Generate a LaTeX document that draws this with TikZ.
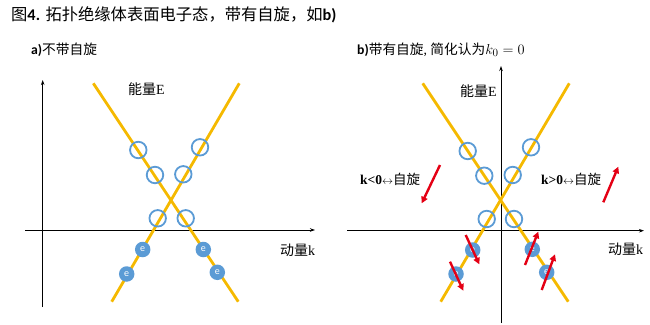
\documentclass[tikz,border=0pt]{standalone}
\usepackage{fontspec}
\setmainfont{Liberation Serif}
\setsansfont{Carlito}
\newfontfamily\cjk{Noto Sans CJK SC}
\usetikzlibrary{arrows.meta}
\definecolor{bandyellow}{RGB}{245,185,0}
\definecolor{holeblue}{RGB}{91,155,213}
\definecolor{spinred}{RGB}{228,0,20}
\newcommand{\fs}[1]{\fontsize{#1}{#1}\selectfont}
\tikzset{
  band/.style={draw=bandyellow, line width=2.8pt},
  hole/.style={circle, draw=holeblue, line width=1.8pt, minimum size=16.5pt, inner sep=0pt},
  elec/.style={circle, fill=holeblue, minimum size=15.5pt, inner sep=0pt, text=white,
    font=\sffamily\fs{10}},
  spin/.style={draw=spinred, line width=2.4pt, -{Triangle[length=6.5pt,width=6.5pt]}},
  axis/.style={draw=black, line width=0.9pt, -{Stealth[length=5pt,width=3.5pt]}},
  lab/.style={inner sep=0pt, font=\fs{14}},
}
\begin{document}
\begin{tikzpicture}[x=1pt,y=-1pt]
  \useasboundingbox (0,0) rectangle (650,324);
  % titles
  \node[lab, anchor=west, font=\fs{16.3}] (title) at (11,15)
    {{\cjk 图}{\sffamily\bfseries 4.} {\cjk 拓扑绝缘体表面电子态，带有自旋，如}{\sffamily\bfseries b)}};
  \node[lab, anchor=west, font=\fs{13.7}] (tita) at (31,50) {{\sffamily\bfseries a)}{\cjk 不带自旋}};
  \node[lab, anchor=west, font=\fs{13.7}] (titb) at (357,50)
    {{\sffamily\bfseries b)}{\cjk 带有自旋}, {\cjk 简化认为}{\fs{15}$k_0 = 0$}};

  % panel a: axes and bands
  \draw[axis] (42.7,307) -- (42.7,80);
  \draw[axis] (25,230) -- (315,230);
  \draw[band] (93.3,83.3) -- (238.3,301.7);
  \draw[band] (111.7,301.7) -- (239.3,83.3);
  \node[lab, anchor=west] (ea) at (128,89) {{\cjk 能量}E};
  \node[lab, anchor=west] (ka) at (280,250) {{\cjk 动量}k};
  \node[hole] (ha1) at (138.3,150) {};
  \node[hole] (ha2) at (155,175) {};
  \node[hole] (ha3) at (200,147.3) {};
  \node[hole] (ha4) at (183.3,174.3) {};
  \node[hole] (ha5) at (157.7,218.3) {};
  \node[hole] (ha6) at (185.7,218.3) {};
  \node[elec] (ea1) at (142.7,249.5) {e};
  \node[elec] (ea2) at (126.7,274) {e};
  \node[elec] (ea3) at (203.3,249.5) {e};
  \node[elec] (ea4) at (217.3,272.3) {e};

  % panel b: axes and bands
  \draw[axis] (501,323) -- (501,66);
  \draw[axis] (347,230.7) -- (644,230.7);
  \draw[band] (422.7,83.3) -- (568.3,301.7);
  \draw[band] (440.7,301.7) -- (569.3,83.3);
  \node[lab, anchor=west] (eb) at (460,91) {{\cjk 能量}E};
  \node[lab, anchor=west] (kb) at (608,249) {{\cjk 动量}k};
  \node[hole] (hb1) at (467.7,151) {};
  \node[hole] (hb2) at (484.3,175.7) {};
  \node[hole] (hb3) at (531,147.3) {};
  \node[hole] (hb4) at (512.7,175) {};
  \node[hole] (hb5) at (486.7,219) {};
  \node[hole] (hb6) at (514,219) {};
  \node[elec] (eb1) at (472.7,250) {e};
  \node[elec] (eb2) at (456,274) {e};
  \node[elec] (eb3) at (532.3,249.3) {e};
  \node[elec] (eb4) at (546.7,272.3) {e};
  \draw[spin] (465.7,235) -- (479.3,264.3);
  \draw[spin] (450,261.7) -- (463.3,290.7);
  \draw[spin] (525,265) -- (538.3,231.7);
  \draw[spin] (541.7,290) -- (555,254.3);

  % spin labels
  \node[lab, anchor=west, font=\fs{13.5}] (kneg) at (360,179)
    {\textbf{k<0}{\fs{11}$\leftrightarrow$}{\cjk 自旋}};
  \node[lab, anchor=west, font=\fs{13.5}] (kpos) at (541,179)
    {\textbf{k>0}{\fs{11}$\leftrightarrow$}{\cjk 自旋}};
  \draw[spin] (440,165) -- (421.7,203.3);
  \draw[spin] (603.3,202.3) -- (618.3,166.7);
\end{tikzpicture}
\end{document}
